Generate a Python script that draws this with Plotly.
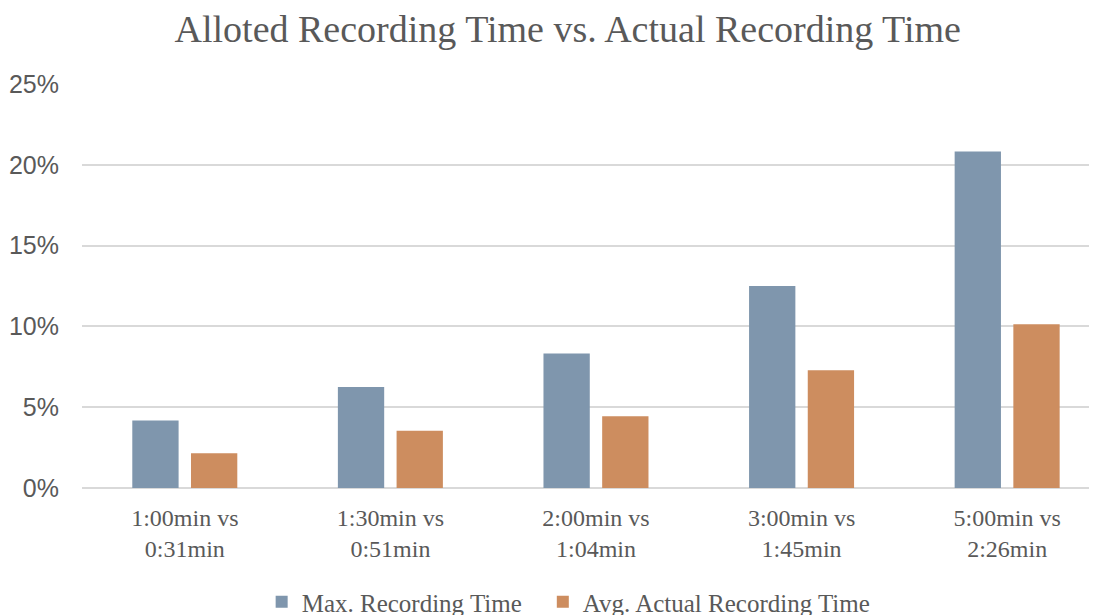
import plotly.graph_objects as go

categories = ["1:00min vs<br>0:31min", "1:30min vs<br>0:51min", "2:00min vs<br>1:04min",
              "3:00min vs<br>1:45min", "5:00min vs<br>2:26min"]
max_time = [0.0417, 0.0625, 0.0833, 0.125, 0.2083]
avg_time = [0.0215, 0.0354, 0.0444, 0.0729, 0.1014]
series_names = ["Max. Recording Time", "Avg. Actual Recording Time"]
y_ticks = [0, 0.05, 0.10, 0.15, 0.20, 0.25]
y_tick_labels = ["0%", "5%", "10%", "15%", "20%", "25%"]

BLUE = "#7F96AD"
ORANGE = "#CD8D5F"
TEXT = "#595959"
GRID = "#D9D9D9"
SERIF = "Liberation Serif"

fig = go.Figure()
fig.add_trace(go.Bar(x=list(range(len(categories))), y=max_time, name=series_names[0],
                     marker=dict(color=BLUE, line=dict(width=0)), legend="legend"))
fig.add_trace(go.Bar(x=list(range(len(categories))), y=avg_time, name=series_names[1],
                     marker=dict(color=ORANGE, line=dict(width=0)), legend="legend2"))

legend_common = dict(orientation="h", xanchor="left", y=-0.2255, yanchor="top",
                     font=dict(family=SERIF, size=25, color=TEXT),
                     itemwidth=30, bgcolor="rgba(0,0,0,0)")

# page body has an 8px margin, so the figure is sized to fit the window
fig.update_layout(
    width=1089, height=607,
    margin=dict(l=74, r=0, t=76, b=127, autoexpand=False),
    paper_bgcolor="white", plot_bgcolor="white",
    barmode="group", bargap=0.429, bargroupgap=0.211,
    title=dict(text="Alloted Recording Time vs. Actual Recording Time",
               font=dict(family=SERIF, size=38, color=TEXT),
               x=0.514, xref="container", xanchor="center",
               y=0.9885, yref="container", yanchor="top"),
    showlegend=True,
    legend=dict(x=0.177, **legend_common),
    legend2=dict(x=0.454, **legend_common),
    xaxis=dict(range=[-0.5, 4.437], tickmode="array", automargin=False,
               tickvals=list(range(len(categories))), ticktext=categories,
               showgrid=False, zeroline=False, showline=False, ticks="",
               tickfont=dict(family=SERIF, size=24, color=TEXT), ticklabelstandoff=13),
    yaxis=dict(range=[0, 0.25], tickmode="array", tickvals=y_ticks, ticktext=y_tick_labels,
               automargin=False,
               showgrid=True, gridcolor=GRID, gridwidth=1.5,
               zeroline=True, zerolinecolor=GRID, zerolinewidth=2,
               showline=False, ticks="", ticklabelstandoff=22,
               tickfont=dict(family="Liberation Sans", size=25, color=TEXT)),
)

fig.write_html("out.html")
